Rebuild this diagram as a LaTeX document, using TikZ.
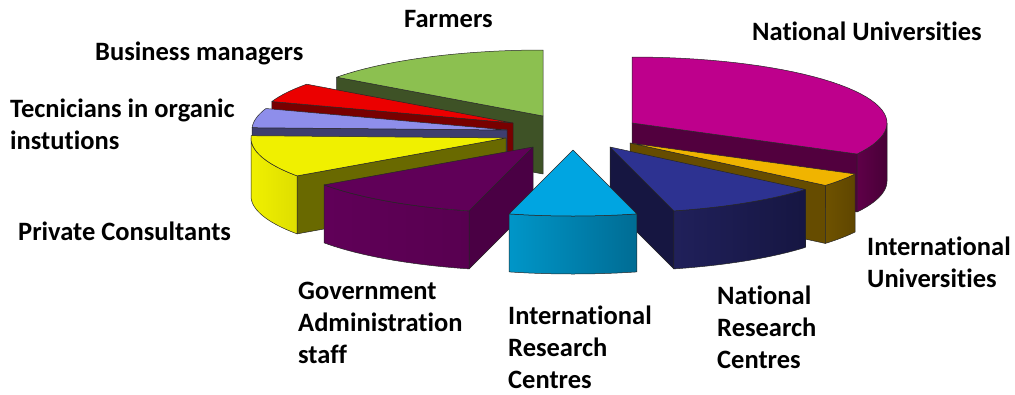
\documentclass[tikz,border=0pt]{standalone}
\usepackage{fontspec}
\setmainfont[Ligatures=NoCommon]{Carlito}
\definecolor{magTop}{RGB}{190,0,140}
\definecolor{magDark}{RGB}{82,0,62}
\definecolor{magSideA}{RGB}{95,0,72}
\definecolor{magSideB}{RGB}{72,0,55}
\definecolor{grnTop}{RGB}{140,192,80}
\definecolor{grnDark}{RGB}{62,82,38}
\definecolor{redTop}{RGB}{235,0,0}
\definecolor{redDark}{RGB}{120,0,0}
\definecolor{lavTop}{RGB}{142,142,235}
\definecolor{lavDark}{RGB}{62,62,110}
\definecolor{yelTop}{RGB}{240,240,0}
\definecolor{yelDark}{RGB}{105,105,0}
\definecolor{yelSideA}{RGB}{240,240,0}
\definecolor{yelSideB}{RGB}{222,222,0}
\definecolor{purTop}{RGB}{96,0,88}
\definecolor{purDark}{RGB}{74,0,68}
\definecolor{purSideA}{RGB}{96,0,88}
\definecolor{purSideB}{RGB}{88,0,80}
\definecolor{cyTop}{RGB}{0,165,225}
\definecolor{cySideA}{RGB}{0,150,200}
\definecolor{cySideB}{RGB}{0,108,148}
\definecolor{navTop}{RGB}{45,50,145}
\definecolor{navDark}{RGB}{22,22,65}
\definecolor{navSideA}{RGB}{32,32,90}
\definecolor{navSideB}{RGB}{22,22,66}
\definecolor{orTop}{RGB}{240,180,0}
\definecolor{orDark}{RGB}{102,76,0}
\definecolor{orSideA}{RGB}{110,82,0}
\definecolor{orSideB}{RGB}{95,70,0}
\def\RX{255}
\def\RY{66}
\def\HH{58}
% top face: cx cy t1 t2 colour
\newcommand\topface[5]{%
  \draw[edge, fill=#5] (#1,#2) -- plot[domain=#3:#4, samples=40] ({#1+\RX*cos(\x)},{#2-\RY*sin(\x)}) -- cycle;}
% radial face: cx cy t colour
\newcommand\radface[4]{%
  \draw[edge, fill=#4] (#1,#2) -- ({#1+\RX*cos(#3)},{#2-\RY*sin(#3)}) -- ({#1+\RX*cos(#3)},{#2+\HH-\RY*sin(#3)}) -- (#1,{#2+\HH}) -- cycle;}
% outer face: cx cy a b leftcolour rightcolour
\newcommand\outface[6]{%
  \draw[edge, left color=#5, right color=#6] plot[domain=#3:#4, samples=40] ({#1+\RX*cos(\x)},{#2-\RY*sin(\x)}) -- plot[domain=#4:#3, samples=40] ({#1+\RX*cos(\x)},{#2+\HH-\RY*sin(\x)}) -- cycle;}
\begin{document}
\begin{tikzpicture}[x=1pt,y=-1pt, line join=round,
  edge/.style={draw=black!85, line width=0.5pt},
  lab/.style={font=\bfseries\fontsize{26.5}{32}\selectfont, inner sep=0pt, align=left, anchor=base west}]
\useasboundingbox (0,0) rectangle (1015,394);
% National Universities (magenta)
\radface{632}{123}{-28}{magDark}
\outface{632}{123}{-28}{0}{magSideA}{magSideB}
\topface{632}{123}{-28}{90}{magTop}
% Farmers (green)
\radface{543}{116}{144}{grnDark}
\topface{543}{116}{90}{144}{grnTop}
% Business managers (red)
\radface{513}{123}{161}{redDark}
\topface{513}{123}{144}{161}{redTop}
% Technicians (lavender)
\radface{507}{130}{178}{lavDark}
\topface{507}{130}{161}{178}{lavTop}
% Private consultants (yellow)
\radface{506}{138}{215}{yelDark}
\outface{506}{138}{180}{215}{yelSideA}{yelSideB}
\topface{506}{138}{178}{215}{yelTop}
% International universities (orange)
\radface{630}{143}{320}{orDark}
\outface{630}{143}{320}{332}{orSideA}{orSideB}
\topface{630}{143}{320}{332}{orTop}
% National research centres (navy)
\radface{610}{147}{284.5}{navDark}
\outface{610}{147}{284.5}{320}{navSideA}{navSideB}
\topface{610}{147}{284.5}{320}{navTop}
% Government administration (purple)
\radface{533}{147}{255.5}{purDark}
\outface{533}{147}{215}{255.5}{purSideA}{purSideB}
\topface{533}{147}{215}{255.5}{purTop}
% International research centres (cyan)
\outface{573}{150}{255.5}{284.5}{cySideA}{cySideB}
\topface{573}{150}{255.5}{284.5}{cyTop}
% labels (base anchor = baseline of last line)
\node[lab] (farmers) at (404,27) {Farmers};
\node[lab] (natuni) at (752,40) {National Universities};
\node[lab] (busman) at (95,60) {Business managers};
\node[lab] (tech) at (10,149) {Tecnicians in organic\\instutions};
\node[lab] (priv) at (18,240) {Private Consultants};
\node[lab] (gov) at (298,363) {Government\\Administration\\staff};
\node[lab] (irc) at (508,388) {International\\Research\\Centres};
\node[lab] (nrc) at (717,368) {National\\Research\\Centres};
\node[lab] (iu) at (867,287) {International\\Universities};
\end{tikzpicture}
\end{document}
